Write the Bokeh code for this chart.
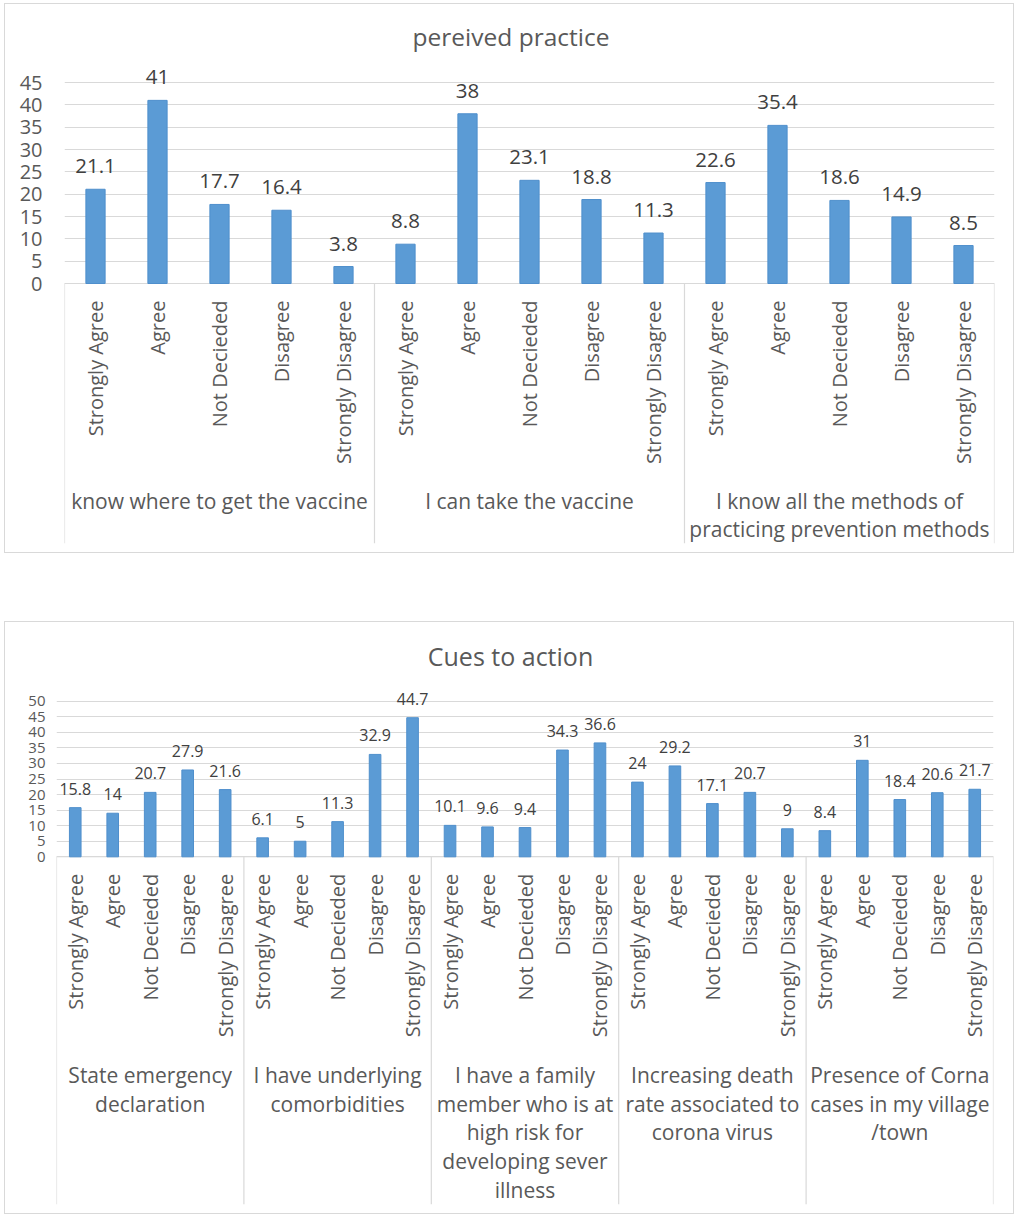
import math
from bokeh.plotting import figure
from bokeh.models import Range1d, FixedTicker, ColumnDataSource
from bokeh.core.properties import value
from bokeh.embed import file_html
from bokeh.resources import INLINE

# ---------------- data ----------------
responses = ["Strongly Agree", "Agree", "Not Decieded", "Disagree", "Strongly Disagree"]

practice_title = "pereived practice"
practice_groups = [
    "know where to get the vaccine",
    "I can take the vaccine",
    "I know all the methods of\npracticing prevention methods",
]
practice_values = [21.1, 41, 17.7, 16.4, 3.8,
                   8.8, 38, 23.1, 18.8, 11.3,
                   22.6, 35.4, 18.6, 14.9, 8.5]
practice_ticks = [0, 5, 10, 15, 20, 25, 30, 35, 40, 45]

cues_title = "Cues to action"
cues_groups = [
    "State emergency\ndeclaration",
    "I have underlying\ncomorbidities",
    "I have a family\nmember who is at\nhigh risk for\ndeveloping sever\nillness",
    "Increasing death\nrate associated to\ncorona virus",
    "Presence of Corna\ncases in my village\n/town",
]
cues_values = [15.8, 14, 20.7, 27.9, 21.6,
               6.1, 5, 11.3, 32.9, 44.7,
               10.1, 9.6, 9.4, 34.3, 36.6,
               24, 29.2, 17.1, 20.7, 9,
               8.4, 31, 18.4, 20.6, 21.7]
cues_ticks = [0, 5, 10, 15, 20, 25, 30, 35, 40, 45, 50]

FONT = "Open Sans"
BAR = "#5b9bd5"
BAR_LINE = "#4f8fcc"
GRID = "#d9d9d9"
TXT = "#595959"
LBL = "#404040"


def build(groups, values, ticks, title, W, H, ml, mr, mt, mb, zero_from_top,
          ppu, title_xy, tick_fs, tick_standoff, val_fs, val_off,
          cat_fs, cat_off, grp_fs, grp_off, grp_lh, title_fs, margin):
    n = len(values)
    frame_w = W - ml - mr
    frame_h = H - mt - mb
    unit_w = frame_w / n
    y_end = zero_from_top / ppu
    y_start = -(frame_h - zero_from_top) / ppu

    p = figure(width=W, height=H, x_range=Range1d(-0.5, n - 0.5),
               y_range=Range1d(y_start, y_end), x_axis_type=None,
               output_backend="svg", toolbar_location=None,
               min_border_left=ml, min_border_right=mr,
               min_border_top=mt, min_border_bottom=mb,
               margin=margin,
               styles={"border": "1px solid #d9d9d9"})
    p.outline_line_color = None
    p.background_fill_color = "white"
    p.border_fill_color = "white"

    ax = p.yaxis[0]
    ax.ticker = FixedTicker(ticks=ticks)
    ax.axis_line_color = None
    ax.major_tick_line_color = None
    ax.minor_tick_line_color = None
    ax.major_tick_out = 0
    ax.major_tick_in = 0
    ax.major_label_standoff = tick_standoff
    ax.major_label_text_font = FONT
    ax.major_label_text_font_size = f"{tick_fs}px"
    ax.major_label_text_color = TXT
    p.ygrid.grid_line_color = GRID
    p.ygrid.bounds = (ticks[0], ticks[-1])

    xs = list(range(n))
    cats = [responses[i % len(responses)] for i in range(n)]
    labels = [f"{v:g}" for v in values]
    src = ColumnDataSource(dict(x=xs, top=values, cat=cats, lab=labels))

    # category box: axis line + group separators
    per = len(responses)
    bounds = [g * per - 0.5 for g in range(len(groups) + 1)]
    p.segment(x0=[-0.5], y0=[0], x1=[n - 0.5], y1=[0], line_color=GRID, line_width=1)
    p.segment(x0=bounds, y0=[0] * len(bounds), x1=bounds, y1=[y_start] * len(bounds),
              line_color=GRID, line_width=1.2)

    p.vbar(x="x", top="top", bottom=0, width=0.31, source=src,
           fill_color=BAR, line_color=BAR_LINE, line_width=1)

    p.text(x="x", y="top", text="lab", source=src, text_align="center",
           text_baseline="middle", y_offset=-val_off,
           text_font=value(FONT), text_font_size=f"{val_fs}px", text_color=LBL)

    p.text(x="x", y=0, text="cat", source=src, angle=math.pi / 2,
           text_align="right", text_baseline="middle", y_offset=cat_off,
           text_font=value(FONT), text_font_size=f"{cat_fs}px", text_color=TXT)

    gx, gy, gt, goff = [], [], [], []
    for gi, g in enumerate(groups):
        for li, line in enumerate(g.split("\n")):
            gx.append(gi * per + (per - 1) / 2)
            gy.append(0)
            gt.append(line)
            goff.append(grp_off + li * grp_lh)
    gsrc = ColumnDataSource(dict(x=gx, y=gy, t=gt, off=goff))
    p.text(x="x", y="y", text="t", y_offset="off", source=gsrc,
           text_align="center", text_baseline="middle",
           text_font=value(FONT), text_font_size=f"{grp_fs}px", text_color=TXT)

    tx = (title_xy[0] - ml) / unit_w - 0.5
    ty = (zero_from_top + mt - title_xy[1]) / ppu
    p.text(x=[tx], y=[ty], text=[title], text_align="center", text_baseline="middle",
           text_font=value(FONT), text_font_size=f"{title_fs}px", text_color=TXT)
    return p


# box 1: page x 4..1016, y 3..555 ; box 2: page x 4..1016, y 623..1218
p1 = build(practice_groups, practice_values, practice_ticks, practice_title,
           W=1010, H=550, ml=59, mr=21, mt=16, mb=11,
           zero_from_top=263, ppu=201 / 45, title_xy=(505.5, 32),
           tick_fs=20, tick_standoff=22, val_fs=20.5, val_off=23,
           cat_fs=20, cat_off=17, grp_fs=21, grp_off=217, grp_lh=28, title_fs=24.5,
           margin=(3, 0, 0, 4))

p2 = build(cues_groups, cues_values, cues_ticks, cues_title,
           W=1010, H=593, ml=51, mr=22, mt=11, mb=11,
           zero_from_top=223.3, ppu=155.6 / 50, title_xy=(505, 33),
           tick_fs=15, tick_standoff=11, val_fs=16, val_off=19,
           cat_fs=20, cat_off=17, grp_fs=21, grp_off=218, grp_lh=28.8, title_fs=25,
           margin=(68, 0, 0, 4))

open("out.html", "w").write(file_html([p1, p2], INLINE))
